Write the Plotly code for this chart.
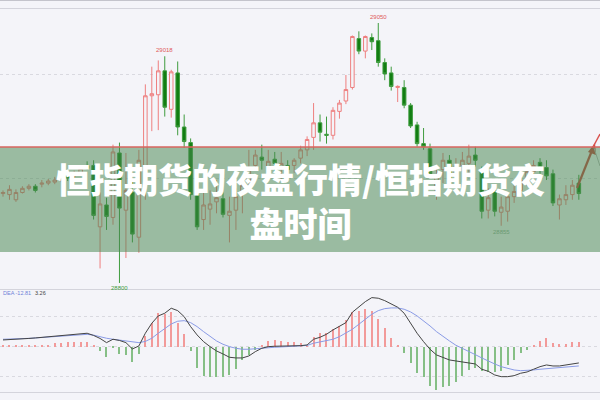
import plotly.graph_objects as go

# ---------------- data ----------------
idx = list(range(90))

opens = [28886, 28885, 28880, 28887, 28891, 28893, 28895, 28896, 28897, 28899,
         28903, 28903, 28906, 28913, 28913, 28854, 28875, 28863, 28925, 28870,
         28887, 28844, 28913, 28980, 28981, 29004, 28967, 29002, 28950, 28935,
         28885, 28861, 28871, 28878, 28881, 28865, 28870, 28885, 28897, 28913,
         28921, 28912, 28919, 28911, 28913, 28913, 28920, 28928, 28940, 28954,
         28943, 28942, 28965, 28975, 28988, 29035, 29023, 29036, 29033, 29012,
         29002, 28988, 28988, 28971, 28952, 28934, 28929, 28889, 28909, 28918,
         28904, 28913, 28915, 28923, 28907, 28870, 28889, 28868, 28869, 28883,
         28889, 28899, 28907, 28916, 28911, 28905, 28875, 28880, 28885, 28896]
highs = [28889, 28894, 28890, 28893, 28895, 28895, 28899, 28900, 28902, 28904,
         28905, 28908, 28912, 28917, 28918, 28887, 28882, 28933, 28935, 28925,
         28899, 28928, 28991, 29008, 29014, 29018, 29005, 29013, 28962, 28939,
         28889, 28888, 28889, 28899, 28887, 28883, 28891, 28899, 28928, 28928,
         28933, 28928, 28926, 28926, 28918, 28920, 28932, 28941, 28973, 28962,
         28960, 28969, 28976, 29000, 29038, 29042, 29038, 29040, 29050, 29016,
         29008, 28990, 28995, 28973, 28955, 28949, 28934, 28909, 28925, 28923,
         28920, 28926, 28933, 28931, 28912, 28891, 28893, 28883, 28886, 28899,
         28907, 28913, 28918, 28920, 28918, 28909, 28885, 28894, 28899, 28904]
lows = [28883, 28880, 28878, 28886, 28889, 28887, 28892, 28894, 28895, 28897,
        28898, 28901, 28904, 28909, 28861, 28814, 28851, 28856, 28800, 28824,
        28839, 28829, 28880, 28946, 28947, 28960, 28959, 28942, 28930, 28880,
        28851, 28851, 28856, 28867, 28863, 28839, 28851, 28867, 28891, 28909,
        28909, 28902, 28906, 28899, 28904, 28906, 28915, 28922, 28928, 28936,
        28934, 28938, 28958, 28972, 28986, 29020, 29016, 29024, 29008, 28995,
        28985, 28974, 28968, 28949, 28931, 28928, 28901, 28880, 28896, 28894,
        28897, 28907, 28906, 28912, 28862, 28862, 28864, 28855, 28859, 28877,
        28885, 28893, 28901, 28904, 28899, 28874, 28861, 28875, 28880, 28880]
closes = [28887, 28890, 28887, 28891, 28893, 28889, 28896, 28898, 28899, 28901,
          28901, 28906, 28910, 28910, 28865, 28876, 28864, 28926, 28872, 28889,
          28847, 28918, 28980, 28982, 29004, 28969, 29003, 28950, 28936, 28885,
          28854, 28875, 28876, 28882, 28866, 28869, 28883, 28894, 28909, 28923,
          28918, 28917, 28915, 28915, 28909, 28918, 28928, 28938, 28954, 28945,
          28942, 28966, 28973, 28986, 29037, 29023, 29037, 29032, 29012, 29001,
          28989, 28989, 28971, 28951, 28934, 28931, 28905, 28904, 28918, 28899,
          28913, 28918, 28922, 28918, 28869, 28882, 28869, 28873, 28883, 28888,
          28899, 28907, 28913, 28911, 28903, 28877, 28881, 28885, 28894, 28886]

dif = [4.45, 4.58, 4.78, 5.11, 5.44, 5.78, 6.11, 6.44, 7.10, 7.44,
       7.77, 8.10, 8.43, 8.90, 7.44, 5.44, 2.66, 4.91, 4.12, 2.66,
       -1.53, 0.46, 8.90, 15.54, 20.38, 22.18, 25.50, 23.90, 19.92, 13.28,
       7.77, 3.32, 0.00, -2.86, -4.85, -7.04, -7.50, -7.50, -6.18, -3.32,
       -1.06, 0.00, 0.27, 0.27, 0.46, 0.46, 0.66, 1.13, 4.91, 6.24,
       8.23, 11.09, 13.28, 15.94, 22.84, 26.56, 29.88, 32.54, 32.14, 30.54,
       28.35, 26.16, 22.18, 15.54, 8.90, 3.32, -1.73, -5.51, -7.30, -8.83,
       -9.50, -10.16, -10.36, -11.49, -15.01, -16.34, -18.79, -19.92, -19.92, -19.26,
       -17.66, -16.80, -15.01, -13.28, -12.15, -12.82, -12.82, -12.15, -11.49, -10.82]
dea = [4.91, 4.98, 5.11, 5.31, 5.51, 5.78, 6.04, 6.31, 6.57, 6.91,
       7.24, 7.57, 7.90, 8.17, 7.64, 6.44, 5.58, 4.91, 4.45, 3.98,
       3.12, 2.66, 3.45, 5.58, 8.90, 12.22, 15.07, 16.87, 17.26, 15.94,
       13.28, 9.96, 6.64, 3.78, 1.59, 0.00, -1.06, -1.73, -1.73, -1.33,
       -0.86, -0.66, -0.40, -0.20, -0.07, 0.07, 0.46, 0.80, 2.26, 3.12,
       4.45, 4.91, 6.64, 8.90, 11.55, 14.87, 18.19, 21.51, 23.90, 25.23,
       25.70, 25.70, 24.83, 23.04, 20.38, 17.26, 13.74, 9.96, 6.64, 3.78,
       0.93, -1.33, -3.32, -5.31, -7.50, -9.69, -11.49, -13.28, -14.61, -15.47,
       -15.94, -15.94, -15.47, -15.01, -14.61, -14.48, -14.14, -13.68, -13.28, -12.81]
macd = [0.5, 0.5, 0.6, 0.6, 0.7, 0.7, 0.8, 0.9, 2.26, 2.46,
        2.79, 3.12, 3.12, 3.12, 1.13, -2.66, -6.84, -0.86, -4.85, -5.51,
        -9.96, -4.85, 7.10, 15.74, 22.58, 21.71, 23.24, 15.74, 8.43, -2.66,
        -14.14, -19.46, -20.32, -20.12, -20.32, -18.79, -14.81, -8.83, -5.51, -2.19,
        1.13, 3.78, 4.45, 3.98, 3.32, 2.92, 2.26, 0.80, 6.64, 8.90,
        8.90, 11.55, 13.74, 17.73, 23.04, 23.90, 24.83, 23.90, 18.19, 12.22,
        5.58, 0.46, -4.38, -10.62, -17.26, -20.32, -26.10, -28.75, -26.56, -26.10,
        -23.24, -19.46, -15.47, -14.34, -15.94, -16.60, -16.60, -15.94, -12.15, -8.83,
        -4.38, -2.19, 1.13, 3.98, 5.58, 2.66, 1.79, 1.79, 3.32, 3.26]

title_text = "恒指期货的夜盘行情/恒指期货夜<br>盘时间"
legend_dea = "DEA -12.81"
legend_macd = "3.26"

BG = "#f4f4f9"
UP = "#ee7f7f"
DOWN_LINE = "#3f9c3f"
DOWN_FILL = "#127d12"

fig = go.Figure()

fig.add_trace(go.Candlestick(
    x=idx, open=opens, high=highs, low=lows, close=closes,
    increasing=dict(line=dict(color=UP, width=1), fillcolor=BG),
    decreasing=dict(line=dict(color=DOWN_LINE, width=1), fillcolor=DOWN_FILL),
    whiskerwidth=0, xaxis="x", yaxis="y", showlegend=False, hoverinfo="skip"))

bar_colors = ["#f29a9a" if v >= 0 else "#86bf86" for v in macd]
fig.add_trace(go.Bar(x=idx, y=macd, width=0.17, marker=dict(color=bar_colors, line=dict(width=0)),
                     xaxis="x2", yaxis="y2", showlegend=False, hoverinfo="skip"))
fig.add_trace(go.Scatter(x=idx, y=dea, mode="lines", line=dict(color="#8a9be6", width=1),
                         xaxis="x2", yaxis="y2", showlegend=False, hoverinfo="skip"))
fig.add_trace(go.Scatter(x=idx, y=dif, mode="lines", line=dict(color="#444444", width=1),
                         xaxis="x2", yaxis="y2", showlegend=False, hoverinfo="skip"))

xr = [-0.464, 92.27]
fig.update_layout(
    width=600, height=400, margin=dict(l=0, r=0, t=0, b=0),
    paper_bgcolor=BG, plot_bgcolor=BG,
    showlegend=False, boxgap=0.22,
    xaxis=dict(domain=[0, 1], range=xr, visible=False, anchor="y", rangeslider=dict(visible=False)),
    yaxis=dict(domain=[0.2775, 0.975], range=[28794.2, 29062.5], tickvals=[28900, 29000],
               showticklabels=False, gridcolor="#d9d9e0", griddash="dot", zeroline=False),
    xaxis2=dict(domain=[0, 1], range=xr, visible=False, anchor="y2"),
    yaxis2=dict(domain=[0.02, 0.275], range=[-30.1, 37.6], tickvals=[-20, 0, 20],
                showticklabels=False, gridcolor="#d9d9e0", griddash="dot", zeroline=False),
    bargap=0,
)

def py(ypix):
    return 1 - ypix / 400.0

shapes = []
for yp_, col in [(0.5, "#c4c4cc"), (8.5, "#d4d4dc"), (289.5, "#d4d4dc"), (392.5, "#d4d4dc")]:
    shapes.append(dict(type="line", xref="paper", yref="paper", x0=0, x1=1, y0=py(yp_), y1=py(yp_),
                       line=dict(color=col, width=1)))
# arrow drawn before the banner
shapes.append(dict(type="line", xref="paper", yref="paper", x0=577/600, y0=py(188), x1=593/600, y1=py(148),
                   line=dict(color="#c8453f", width=2.2)))
shapes.append(dict(type="path", xref="paper", yref="paper",
                   path="M {:.4f},{:.4f} L {:.4f},{:.4f} L {:.4f},{:.4f} Z".format(
                       595/600, py(143), 588/600, py(152), 596/600, py(155)),
                   fillcolor="#c8453f", line=dict(width=0)))
shapes.append(dict(type="line", xref="paper", yref="paper", x0=593/600, y0=py(147), x1=600/600, y1=py(134),
                   line=dict(color="#d9534f", width=1.5)))
shapes.append(dict(type="line", xref="paper", yref="paper", x0=594/600, y0=py(148), x1=600/600, y1=py(166),
                   line=dict(color="#b8b8b8", width=1)))
# banner
shapes.append(dict(type="rect", xref="paper", yref="paper", x0=0, x1=1, y0=py(252), y1=py(147),
                   fillcolor="rgba(70,135,80,0.52)", line=dict(width=0)))
shapes.append(dict(type="line", xref="paper", yref="paper", x0=0, x1=1, y0=py(147), y1=py(147),
                   line=dict(color="#d9655f", width=1.5)))
fig.update_layout(shapes=shapes)

ann = []
ann.append(dict(x=0.5, y=py(201), xref="paper", yref="paper", text=title_text, showarrow=False,
                font=dict(family="Noto Sans CJK SC", size=34, color="white", weight=900),
                align="center", xanchor="center", yanchor="middle"))
small = dict(family="Liberation Sans", size=6)
ann.append(dict(x=25, y=29018, xref="x", yref="y", text="29018", showarrow=False, yanchor="bottom",
                yshift=1, font=dict(small, color="#e05a5a")))
ann.append(dict(x=58, y=29050, xref="x", yref="y", text="29050", showarrow=False, yanchor="bottom",
                yshift=1, font=dict(small, color="#e05a5a")))
ann.append(dict(x=18, y=28800, xref="x", yref="y", text="28800", showarrow=False, yanchor="top",
                yshift=0, font=dict(small, color="#3f9c3f")))
ann.append(dict(x=77, y=28855, xref="x", yref="y", text="28855", showarrow=False, yanchor="top",
                yshift=-1, font=dict(small, color="#6a9a72")))
ann.append(dict(x=1/600, y=py(293), xref="paper", yref="paper", text=legend_dea, showarrow=False,
                xanchor="left", yanchor="middle", font=dict(family="Liberation Sans", size=5.5, color="#6f82d8")))
ann.append(dict(x=33/600, y=py(293), xref="paper", yref="paper", text=legend_macd, showarrow=False,
                xanchor="left", yanchor="middle", font=dict(family="Liberation Sans", size=5.5, color="#444444")))
fig.update_layout(annotations=ann)

fig.write_html("out.html", config={"displayModeBar": False},
               post_script="document.body.style.margin='0px';document.body.style.overflow='hidden';")
